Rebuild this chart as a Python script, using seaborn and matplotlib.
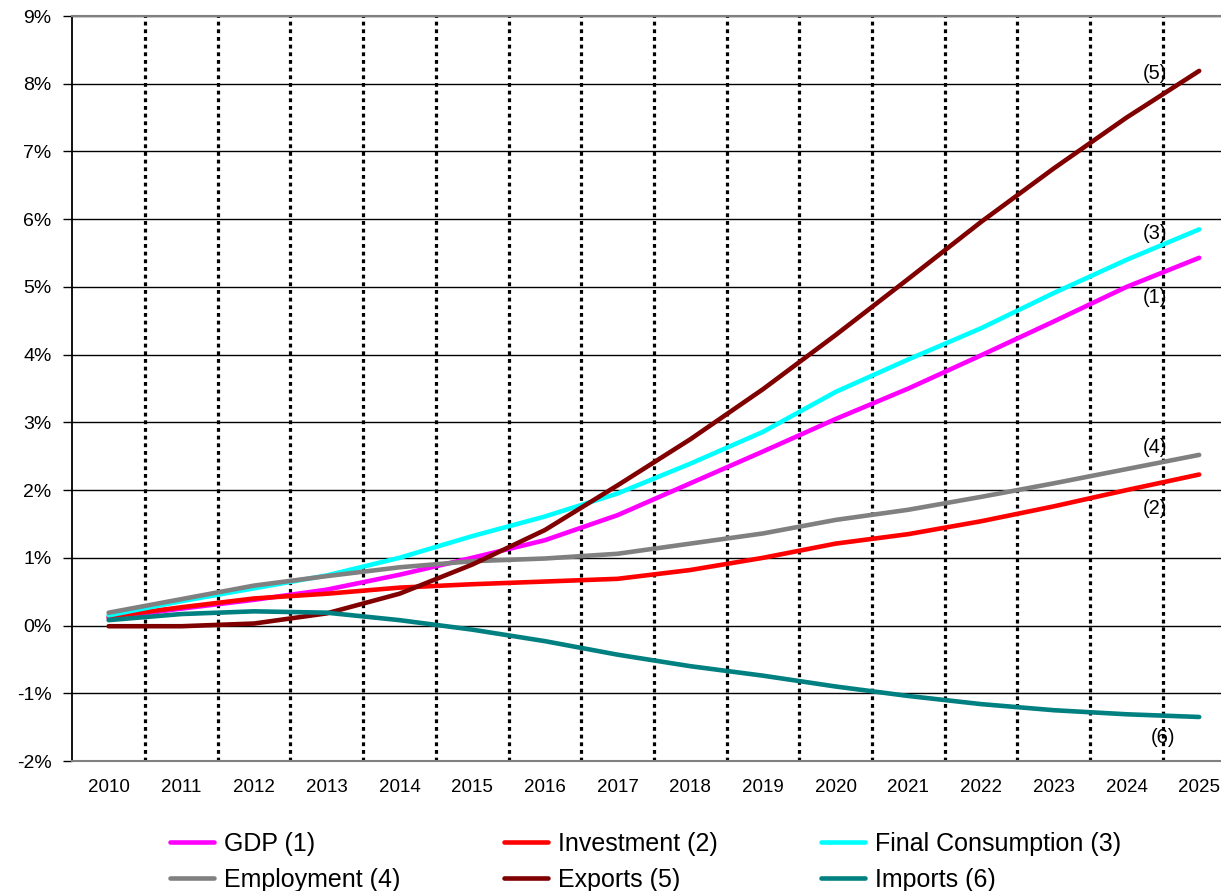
import pandas as pd
import matplotlib
matplotlib.use('Agg')
import matplotlib.pyplot as plt
from matplotlib.ticker import FixedLocator, FuncFormatter
import seaborn as sns

# Values (% change, yearly)
years = list(range(2010, 2026))
gdp = [0.11, 0.25, 0.38, 0.53, 0.75, 1.00, 1.26, 1.63, 2.10, 2.57, 3.05, 3.50, 3.99, 4.49, 5.00, 5.43]
investment = [0.13, 0.27, 0.40, 0.47, 0.56, 0.61, 0.65, 0.69, 0.82, 1.00, 1.21, 1.35, 1.54, 1.76, 2.00, 2.23]
final_consumption = [0.15, 0.36, 0.55, 0.74, 1.00, 1.32, 1.61, 1.95, 2.39, 2.86, 3.45, 3.93, 4.39, 4.91, 5.40, 5.85]
employment = [0.19, 0.39, 0.59, 0.73, 0.86, 0.95, 0.99, 1.06, 1.21, 1.36, 1.56, 1.71, 1.90, 2.10, 2.31, 2.52]
exports = [-0.01, -0.01, 0.03, 0.18, 0.47, 0.90, 1.41, 2.07, 2.75, 3.49, 4.29, 5.12, 5.96, 6.75, 7.50, 8.19]
imports = [0.08, 0.17, 0.21, 0.19, 0.08, -0.06, -0.23, -0.43, -0.60, -0.74, -0.90, -1.04, -1.16, -1.25, -1.31, -1.35]

series_names = ['GDP (1)', 'Investment (2)', 'Final Consumption (3)',
                'Employment (4)', 'Exports (5)', 'Imports (6)']
series_values = [gdp, investment, final_consumption, employment, exports, imports]
colors = ['#FF00FF', '#FF0000', '#00FFFF', '#808080', '#800000', '#008080']
end_labels = ['(1)', '(2)', '(3)', '(4)', '(5)', '(6)']

# label offsets from the last point, in points
label_offsets = [(-31.7, -28.8), (-31.7, -24.5), (-31.7, -2.9),
                 (-31.7, 5.0), (-31.7, -1.8), (-26.0, -15.0)]

# long-form table for seaborn
df = pd.concat([
    pd.DataFrame({'Year': years, 'Value': vals, 'Series': name})
    for name, vals in zip(series_names, series_values)
], ignore_index=True)

sns.set_style('white')
plt.rcParams['font.family'] = ['Liberation Sans', 'DejaVu Sans']
plt.rcParams['text.color'] = 'black'
plt.rcParams['xtick.color'] = 'black'
plt.rcParams['ytick.color'] = 'black'

fig = plt.figure(figsize=(12.21, 8.91), dpi=100)
ax = fig.add_axes([0.0592, 0.1459, 0.9527, 0.8361])

sns.lineplot(data=df, x='Year', y='Value', hue='Series', hue_order=series_names,
             palette=dict(zip(series_names, colors)), linewidth=3.3, ax=ax, legend=True)

handles, labels = ax.get_legend_handles_labels()
ax.get_legend().remove()

# axis ranges
ax.set_xlim(2009.5, 2025.5)
ax.set_ylim(-2, 9)

# y axis: percent ticks
ax.yaxis.set_major_locator(FixedLocator(list(range(-2, 10))))
ax.yaxis.set_major_formatter(FuncFormatter(lambda v, p: f'{int(v)}%'))
ax.tick_params(axis='y', which='major', direction='out', length=6.5, width=1.0,
               color='black', pad=8.5, labelsize=14, left=True, labelcolor='black')

# x axis: years, dotted separators between years
ax.xaxis.set_major_locator(FixedLocator(years))
ax.xaxis.set_minor_locator(FixedLocator([y + 0.5 for y in years]))
ax.tick_params(axis='x', which='both', length=0, pad=13, labelsize=13.5, labelcolor='black')
ax.set_xlabel('')
ax.set_ylabel('')

ax.set_axisbelow(True)
ax.grid(axis='y', which='major', color='black', linewidth=1.0, linestyle='-')
ax.grid(axis='x', which='minor', color='black', linewidth=2.3, linestyle=(0, (1.2, 1.2)))
ax.grid(axis='x', which='major', visible=False)

ax.spines['left'].set_color('black')
ax.spines['left'].set_linewidth(1.3)
ax.spines['top'].set_color('#808080')
ax.spines['top'].set_linewidth(1.5)
ax.spines['bottom'].set_color('#808080')
ax.spines['bottom'].set_linewidth(1.5)
ax.spines['right'].set_visible(False)

# series end labels
for name, vals, lab, (dx, dy) in zip(series_names, series_values, end_labels, label_offsets):
    ax.annotate(lab, xy=(years[-1], vals[-1]), xytext=(dx, dy), textcoords='offset points',
                ha='center', va='center', fontsize=14.5, color='black')

# legend: 3 columns x 2 rows, filled row by row
order = [0, 3, 1, 4, 2, 5]
fig.legend([handles[i] for i in order], [labels[i] for i in order],
           loc='upper left', bbox_to_anchor=(0.1392, 0.066), ncol=3, frameon=False,
           fontsize=18, handlelength=1.75, handletextpad=0.4, columnspacing=4.15,
           labelspacing=0.48, borderpad=0, borderaxespad=0, labelcolor='black')

plt.savefig('out.png', dpi=100)
plt.close()
